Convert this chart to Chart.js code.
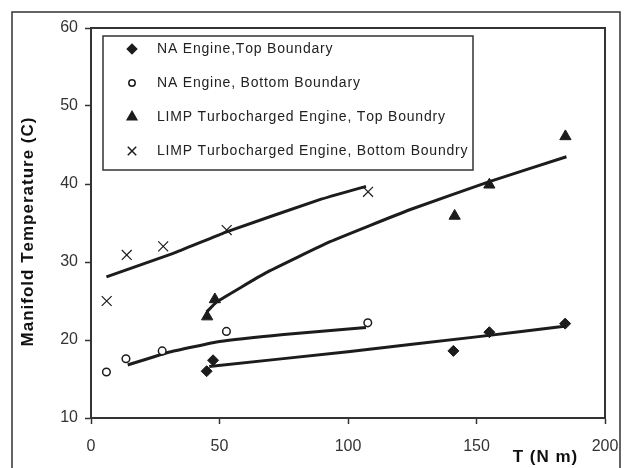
<!DOCTYPE html>
<html>
<head>
<meta charset="utf-8">
<script src="https://cdn.jsdelivr.net/npm/chart.js@4.4.1/dist/chart.umd.min.js"></script>
<style>
  html, body { margin: 0; padding: 0; background: #fff; }
  #wrap { width: 624px; height: 468px; }
</style>
</head>
<body>
<div id="wrap"><canvas id="myChart" width="624" height="468"></canvas></div>
<script>
// series names (legend)
const seriesNames = [
  "NA Engine,Top Boundary",
  "NA Engine, Bottom Boundary",
  "LIMP Turbocharged Engine, Top Boundry",
  "LIMP Turbocharged Engine, Bottom Boundry"
];

// measured points
const naTopX = [45, 47.5, 141, 155, 184.5];
const naTopY = [16, 17.4, 18.6, 21, 22.1];
const naBotX = [6, 13.6, 27.7, 52.7, 107.7];
const naBotY = [15.9, 17.6, 18.6, 21.1, 22.2];
const turboTopX = [45.2, 48.2, 141.5, 155, 184.6];
const turboTopY = [23, 25.2, 35.9, 39.9, 46.1];
const turboBotX = [6.1, 13.9, 28.1, 52.8, 107.8];
const turboBotY = [25, 30.9, 32, 34.1, 39];

// trend lines
const naTopTrendX = [46, 100, 150, 185];
const naTopTrendY = [16.6, 18.5, 20.4, 21.8];
const naBotTrendX = [14.3, 30, 50, 75, 107];
const naBotTrendY = [16.8, 18.4, 19.8, 20.7, 21.6];
const turboTopTrendX = [45, 49, 68, 93, 124, 155, 185];
const turboTopTrendY = [23.6, 24.9, 28.6, 32.6, 36.7, 40.3, 43.5];
const turboBotTrendX = [6, 32, 53, 89, 107];
const turboBotTrendY = [28.1, 31.1, 33.9, 38, 39.7];

// axis ticks
const xTicks = [0, 50, 100, 150, 200];
const yTicks = [10, 20, 30, 40, 50, 60];
const xTitle = "T (N m)";
const yTitle = "Manifold Temperature (C)";

const ink = "#1c1c1c";
const markerStyles = [
  { pointStyle: "rectRot", radius: 5.5, fill: ink, borderWidth: 1 },
  { pointStyle: "circle", radius: 3.8, fill: "#fff", borderWidth: 1.5 },
  { pointStyle: "triangle", radius: 6.5, fill: ink, borderWidth: 1 },
  { pointStyle: "crossRot", radius: 7, fill: ink, borderWidth: 1.2 }
];

function toPoints(xs, ys) {
  return xs.map((x, i) => ({ x: x, y: ys[i] }));
}

function markerSet(i, xs, ys) {
  const m = markerStyles[i];
  return {
    label: seriesNames[i],
    data: toPoints(xs, ys),
    showLine: false,
    pointStyle: m.pointStyle,
    pointRadius: m.radius,
    pointBackgroundColor: m.fill,
    pointBorderColor: ink,
    pointBorderWidth: m.borderWidth,
    order: 1
  };
}

function trendSet(xs, ys) {
  return {
    label: "trend",
    data: toPoints(xs, ys),
    showLine: true,
    borderColor: ink,
    borderWidth: 3,
    pointRadius: 0,
    tension: 0.1,
    order: 2
  };
}

// text with extra space between letters, drawn left to right from x
function spacedText(ctx, text, x, y, gap) {
  let cx = x;
  for (const ch of text) {
    ctx.fillText(ch, cx, y);
    cx += ctx.measureText(ch).width + gap;
  }
  return cx - gap - x;
}

function spacedWidth(ctx, text, gap) {
  let w = 0;
  for (const ch of text) w += ctx.measureText(ch).width + gap;
  return w - gap;
}

const decor = {
  id: "decor",
  afterDraw(chart) {
    const ctx = chart.ctx;
    const a = chart.chartArea;
    ctx.save();

    // outer frame
    ctx.strokeStyle = "#333";
    ctx.lineWidth = 1.5;
    ctx.beginPath();
    ctx.moveTo(12, 470);
    ctx.lineTo(12, 12);
    ctx.lineTo(620, 12);
    ctx.lineTo(620, 470);
    ctx.stroke();

    // top + right of plot box
    ctx.lineWidth = 2;
    ctx.beginPath();
    ctx.moveTo(a.left, a.top);
    ctx.lineTo(a.right, a.top);
    ctx.lineTo(a.right, a.bottom);
    ctx.stroke();

    // legend
    ctx.fillStyle = "#fff";
    ctx.fillRect(103, 36, 370, 134);
    ctx.lineWidth = 1.5;
    ctx.strokeRect(103, 36, 370, 134);
    ctx.font = "14px 'Liberation Sans', Arial, sans-serif";
    ctx.textBaseline = "middle";
    ctx.textAlign = "left";
    seriesNames.forEach((name, i) => {
      const y = 49 + i * 34;
      const m = markerStyles[i];
      ctx.fillStyle = m.fill;
      ctx.strokeStyle = ink;
      Chart.helpers.drawPoint(ctx, {
        pointStyle: m.pointStyle,
        radius: i === 1 ? 3.2 : m.radius * 0.85,
        borderWidth: m.borderWidth,
        rotation: 0
      }, 132, y);
      ctx.fillStyle = "#222";
      spacedText(ctx, name, 157, y, 0.8);
    });

    // axis titles
    ctx.fillStyle = "#111";
    ctx.font = "bold 17px 'Liberation Sans', Arial, sans-serif";
    const xw = spacedWidth(ctx, xTitle, 1);
    spacedText(ctx, xTitle, 545 - xw / 2, 457, 1);
    ctx.translate(28, 232);
    ctx.rotate(-Math.PI / 2);
    const yw = spacedWidth(ctx, yTitle, 1);
    spacedText(ctx, yTitle, -yw / 2, 0, 1);
    ctx.restore();
  }
};

function renderChart() {
  const ctx = document.getElementById("myChart");
  new Chart(ctx, {
    type: "scatter",
    data: {
      datasets: [
        markerSet(0, naTopX, naTopY),
        markerSet(1, naBotX, naBotY),
        markerSet(2, turboTopX, turboTopY),
        markerSet(3, turboBotX, turboBotY),
        trendSet(naTopTrendX, naTopTrendY),
        trendSet(naBotTrendX, naBotTrendY),
        trendSet(turboTopTrendX, turboTopTrendY),
        trendSet(turboBotTrendX, turboBotTrendY)
      ]
    },
    options: {
      responsive: false,
      animation: false,
      devicePixelRatio: 1,
      layout: { padding: { left: 0, top: 28, right: 19, bottom: 0 } },
      plugins: {
        legend: { display: false },
        tooltip: { enabled: false }
      },
      scales: {
        x: {
          type: "linear",
          min: 0,
          max: 200,
          afterBuildTicks: (s) => { s.ticks = xTicks.map(v => ({ value: v })); },
          afterFit: (s) => { s.height = 50; s.paddingLeft = 0; s.paddingRight = 0; },
          ticks: {
            color: "#333",
            padding: 13,
            font: { family: "'Liberation Sans', Arial, sans-serif", size: 16 }
          },
          grid: { drawOnChartArea: false, tickLength: 6, color: "#333", tickWidth: 1.5 },
          border: { color: "#333", width: 2 }
        },
        y: {
          type: "linear",
          min: 10,
          max: 60,
          afterBuildTicks: (s) => { s.ticks = yTicks.map(v => ({ value: v })); },
          afterFit: (s) => { s.width = 91; s.paddingTop = 0; s.paddingBottom = 0; },
          ticks: {
            color: "#333",
            padding: 7,
            font: { family: "'Liberation Sans', Arial, sans-serif", size: 16 }
          },
          grid: { drawOnChartArea: false, tickLength: 6, color: "#333", tickWidth: 1.5 },
          border: { color: "#333", width: 2 }
        }
      }
    },
    plugins: [decor]
  });
}

renderChart();
</script>
</body>
</html>
